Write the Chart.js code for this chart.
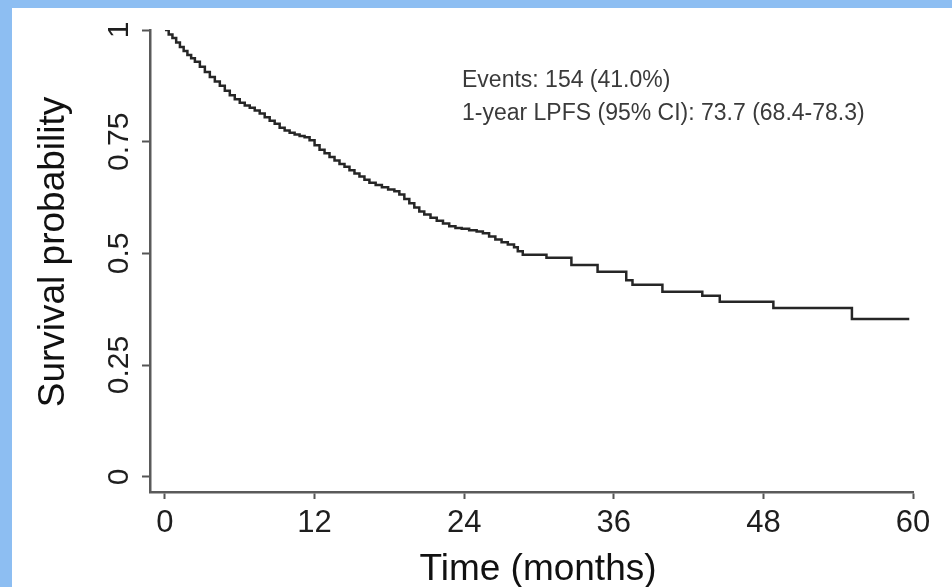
<!DOCTYPE html>
<html>
<head>
<meta charset="utf-8">
<script src="https://cdn.jsdelivr.net/npm/chart.js@4.4.1/dist/chart.umd.min.js"></script>
<style>
  html, body { margin: 0; padding: 0; background: #8dbef2; }
  #panel { position: absolute; left: 12px; top: 8px; width: 940px; height: 579px; background: #ffffff; }
</style>
</head>
<body>
<div id="panel"><canvas id="kmChart"></canvas></div>
<script>
// Kaplan-Meier estimate (months, survival probability)
const times = [0, 0.3, 0.6, 0.9, 1.2, 1.5, 1.8, 2.1, 2.4, 2.8, 3.2, 3.6, 4.0, 4.4, 4.8, 5.2, 5.6, 6.0,
  6.4, 6.8, 7.2, 7.6, 8.0, 8.4, 8.8, 9.2, 9.6, 10.0, 10.4, 10.8, 11.2, 11.6, 12.0, 12.4, 12.8, 13.2,
  13.6, 14.0, 14.4, 14.8, 15.2, 15.6, 16.0, 16.4, 16.9, 17.4, 17.9, 18.4, 18.8, 19.2, 19.6, 20.0,
  20.4, 20.8, 21.3, 21.8, 22.3, 22.8, 23.3, 23.8, 24.4, 25.0, 25.5, 26.0, 26.5, 27.0, 27.5, 28.0,
  28.3, 28.7, 30.6, 32.6, 34.7, 37.0, 37.5, 39.9, 43.1, 44.5, 48.8, 55.1, 59.7];
const survival = [1.0, 0.99, 0.982, 0.972, 0.962, 0.953, 0.944, 0.937, 0.929, 0.918, 0.906, 0.895,
  0.885, 0.875, 0.864, 0.854, 0.845, 0.837, 0.831, 0.826, 0.82, 0.813, 0.805, 0.797, 0.79, 0.781,
  0.775, 0.77, 0.766, 0.763, 0.76, 0.753, 0.742, 0.732, 0.724, 0.716, 0.708, 0.7, 0.694, 0.686,
  0.679, 0.672, 0.665, 0.658, 0.653, 0.648, 0.643, 0.639, 0.632, 0.622, 0.612, 0.603, 0.594, 0.587,
  0.58, 0.573, 0.567, 0.561, 0.557, 0.555, 0.552, 0.549, 0.545, 0.538, 0.531, 0.525, 0.52, 0.514,
  0.505, 0.497, 0.49, 0.474, 0.459, 0.44, 0.43, 0.414, 0.405, 0.392, 0.378, 0.353, 0.353];

// Axis ticks
const xTicks = [0, 12, 24, 36, 48, 60];
const yTicks = [0, 0.25, 0.5, 0.75, 1];
const yTickLabels = ['0', '0.25', '0.5', '0.75', '1'];

// Titles and annotation text
const xTitle = 'Time (months)';
const yTitle = 'Survival probability';
const noteLines = ['Events: 154 (41.0%)', '1-year LPFS (95% CI): 73.7 (68.4-78.3)'];

const FONT = '"Liberation Sans", Arial, Helvetica, sans-serif';

// Draws the rotated y tick labels, axis titles and the annotation
const extrasPlugin = {
  id: 'extras',
  afterDraw(chart) {
    const ctx = chart.ctx;
    const yScale = chart.scales.y;
    ctx.save();
    ctx.fillStyle = '#1e1e1e';
    ctx.font = '30px ' + FONT;
    ctx.textAlign = 'center';
    ctx.textBaseline = 'middle';
    yTicks.forEach((v, i) => {
      const py = yScale.getPixelForValue(v);
      ctx.save();
      ctx.translate(108, py);
      ctx.rotate(-Math.PI / 2);
      ctx.fillText(yTickLabels[i], 0, 0);
      ctx.restore();
    });

    // axis titles
    ctx.fillStyle = '#111';
    ctx.font = '37px ' + FONT;
    ctx.save();
    ctx.translate(42, 244);
    ctx.rotate(-Math.PI / 2);
    ctx.fillText(yTitle, 0, 0);
    ctx.restore();
    ctx.fillText(xTitle, 526, 562);

    ctx.fillStyle = '#3a3a3a';
    ctx.font = '23px ' + FONT;
    ctx.textAlign = 'left';
    ctx.textBaseline = 'alphabetic';
    ctx.fillText(noteLines[0], 450, 79);
    ctx.fillText(noteLines[1], 450, 112);
    ctx.restore();
  }
};

new Chart(document.getElementById('kmChart'), {
  type: 'line',
  data: {
    datasets: [{
      data: times.map((t, i) => ({ x: t, y: survival[i] })),
      borderColor: '#262626',
      borderWidth: 2.5,
      pointRadius: 0,
      stepped: 'before',
      fill: false
    }]
  },
  options: {
    responsive: true,
    maintainAspectRatio: false,
    animation: false,
    layout: { padding: { top: 22, right: 39, left: 0, bottom: 0 } },
    plugins: {
      legend: { display: false },
      tooltip: { enabled: false }
    },
    scales: {
      x: {
        type: 'linear',
        min: -1.2,
        max: 60,
        afterBuildTicks: (scale) => { scale.ticks = xTicks.map(v => ({ value: v })); },
        afterFit: (scale) => { scale.height = 95; },
        grid: { drawOnChartArea: false, drawTicks: true, tickLength: 7, tickColor: '#555', tickWidth: 2 },
        border: { display: true, color: '#5a5a5a', width: 2.5 },
        ticks: { color: '#1e1e1e', font: { family: FONT, size: 31 }, padding: 6, maxRotation: 0 }
      },
      y: {
        type: 'linear',
        min: -0.034,
        max: 1,
        afterBuildTicks: (scale) => { scale.ticks = yTicks.map(v => ({ value: v })); },
        afterFit: (scale) => { scale.width = 138; },
        grid: { drawOnChartArea: false, drawTicks: true, tickLength: 8, tickColor: '#555', tickWidth: 2 },
        border: { display: true, color: '#5a5a5a', width: 2.5 },
        ticks: { display: false }
      }
    }
  },
  plugins: [extrasPlugin]
});
</script>
</body>
</html>
